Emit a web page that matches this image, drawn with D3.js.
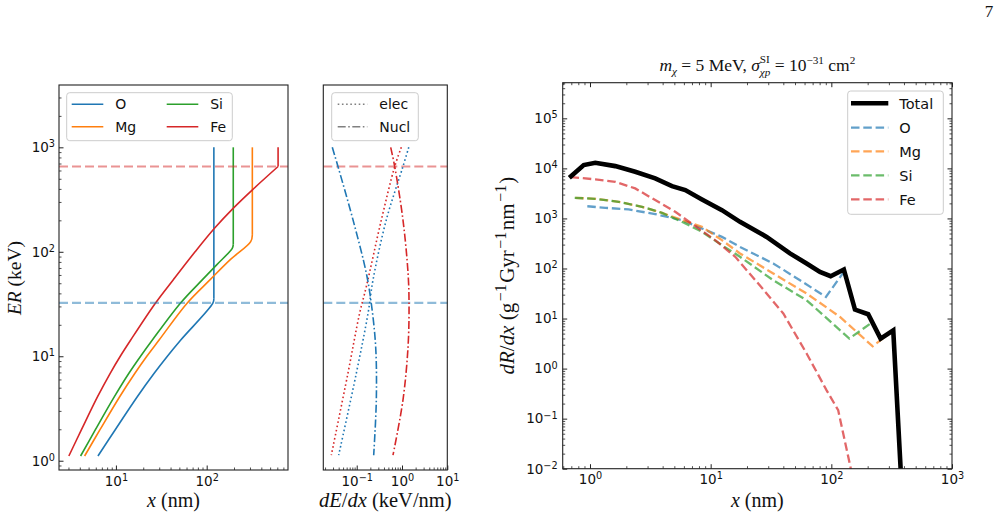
<!DOCTYPE html>
<html><head><meta charset="utf-8">
<script src="https://cdn.jsdelivr.net/npm/d3@7"></script>
<style>body{margin:0;background:#fff} svg{display:block}</style>
</head><body><svg id="c" width="1001" height="518"></svg>
<script>
// ---------------- DATA ----------------
const elements = ["O","Mg","Si","Fe"];
const elementColors = ["#1f77b4","#ff7f0e","#2ca02c","#d62728"];

// Left panel: recoil range x (nm) vs ER (keV)
const range_O_x  = [6.34, 9.79, 17.2, 26.4, 36.9, 51.8, 117, 120, 120];
const range_O_E  = [1.11, 1.97, 4.10, 6.87, 10.0, 14.3, 32.2, 35.5, 1000];
const range_Mg_x = [4.52, 6.65, 11.0, 16.2, 21.9, 29.9, 60.8, 108.6, 180.7, 305.5, 318.4, 318.4];
const range_Mg_E = [1.11, 1.97, 4.10, 6.87, 10.0, 14.3, 32.2, 53.8, 83.6, 125, 145, 1000];
const range_Si_x = [4.08, 5.92, 9.62, 13.9, 18.7, 25.2, 51.3, 89.3, 128.8, 191.4, 196.3, 196.3];
const range_Si_E = [1.11, 1.97, 4.10, 6.87, 10.0, 14.3, 32.2, 53.8, 75, 108, 117, 1000];
const range_Fe_x = [3.03, 4.16, 6.28, 8.65, 11.17, 14.55, 27.2, 42.7, 74.5, 121.9, 196.8, 319, 612, 612];
const range_Fe_E = [1.11, 1.97, 4.10, 6.87, 10.0, 14.3, 32.2, 53.8, 100, 168, 262, 392, 655, 1000];

// Threshold energies (horizontal dashed lines)
const thresholdE = [655, 32.4];
const thresholdColors = ["#d62728", "#1f77b4"];

// Middle panel: stopping power dE/dx (keV/nm) vs ER (keV)
const nucl_O_v  = [0.0289, 0.0386, 0.0829, 0.163, 0.210, 0.262, 0.271, 0.237];
const nucl_O_E  = [1000, 655, 202, 62.4, 32, 12.4, 3.81, 1.13];
const nucl_Fe_v = [0.563, 0.690, 1.05, 1.36, 1.43, 1.36, 1.05, 0.632];
const nucl_Fe_E = [1000, 655, 202, 62.4, 32, 12.4, 3.81, 1.13];
const elec_O_v  = [1.41, 1.05, 0.45, 0.229, 0.178, 0.098, 0.040];
const elec_O_E  = [1000, 655, 202, 53.8, 25.8, 6.87, 1.13];
const elec_Fe_v = [0.966, 0.69, 0.35, 0.163, 0.116, 0.064, 0.0275];
const elec_Fe_E = [1000, 655, 202, 46.4, 25.8, 6.87, 1.13];

// Right panel: dR/dx vs x
const total_x = [0.674, 0.887, 1.106, 1.62, 2.37, 3.47, 4.78, 6.16, 8.47, 12.4, 17.5, 29.1, 45.4, 62.4, 80.5, 98.7, 127, 157, 202, 256, 326, 381];
const total_y = [6490, 11650, 12900, 11100, 8550, 6310, 4430, 3680, 2400, 1465, 855, 428, 200, 126, 85.5, 70.2, 95.5, 15.1, 12.2, 3.98, 5.83, 0.005];
const rate_O_x  = [0.95, 1.34, 2.09, 3.47, 5.78, 8.47, 12.4, 17.5, 33, 55, 90.2, 127];
const rate_O_y  = [1750, 1630, 1514, 1220, 925, 631, 428, 270, 126, 58.3, 27, 85.5];
const rate_Mg_x = [0.755, 1.106, 1.73, 2.70, 3.95, 5.78, 8.47, 12.4, 17.5, 33, 62.4, 118, 220, 326];
const rate_Mg_y = [2580, 2466, 2148, 1706, 1294, 925, 679, 368, 200, 79.4, 31.6, 10.8, 2.79, 5.83];
const rate_Si_x = [0.747, 1.106, 1.73, 2.70, 3.95, 5.78, 8.47, 12.4, 17.5, 33, 62.4, 141, 215];
const rate_Si_y = [2580, 2466, 2148, 1706, 1294, 855, 540, 292, 171, 58.3, 23.2, 3.98, 8.2];
const rate_Fe_x = [0.69, 1.106, 1.62, 2.37, 3.47, 5.09, 7.45, 10.9, 16, 27.3, 40, 62.4, 91.4, 114, 148];
const rate_Fe_y = [6700, 6030, 5400, 3980, 2323, 1355, 701, 368, 171, 38, 12.6, 2.0, 0.368, 0.147, 0.008];

// Tick values
const leftYTicks = [1, 10, 100, 1000];
const leftXTicks = [10, 100];
const midXTicks = [0.1, 1, 10];
const rightXTicks = [1, 10, 100, 1000];
const rightYTicks = [1e-2, 1e-1, 1, 10, 100, 1e3, 1e4, 1e5];

// ---------------- LAYOUT ----------------
const svg = d3.select("#c");
const PL = {x0:59, x1:288, y0:85, y1:470};
const PM = {x0:323.3, x1:447.3, y0:85, y1:470};
const PR = {x0:562.7, x1:952, y0:82.7, y1:468.7};
const SANS = "DejaVu Sans", SERIF = "Liberation Serif";

const xL = d3.scaleLog().domain([2.36, 787]).range([PL.x0, PL.x1]);
const yE = d3.scaleLog().domain([0.815, 3950]).range([PL.y1, PL.y0]);
const xM = d3.scaleLog().domain([0.0183, 10]).range([PM.x0, PM.x1]);
const xR = d3.scaleLog().domain([0.594, 1000]).range([PR.x0, PR.x1]);
const yR = d3.scaleLog().domain([0.01, 5.15e5]).range([PR.y1, PR.y0]);

function logMinors(dom){
  const out=[]; const a=Math.floor(Math.log10(dom[0])), b=Math.ceil(Math.log10(dom[1]));
  for(let d=a; d<=b; d++) for(let k=2;k<=9;k++){const v=k*Math.pow(10,d); if(v>=dom[0] && v<=dom[1]) out.push(v);}
  return out;
}
function supLabel(sel){
  sel.each(function(d){
    const e=Math.round(Math.log10(d)); const t=d3.select(this); t.text(null);
    t.append("tspan").text("10");
    t.append("tspan").attr("dy","-0.5em").attr("font-size","0.72em").text(e<0?"\u2212"+(-e):String(e));
  });
}
function axis(orient, scale, P, majors, labeled, pad){
  const gen = {bottom:d3.axisBottom, top:d3.axisTop, left:d3.axisLeft, right:d3.axisRight}[orient];
  const tr = orient==="bottom" ? `translate(0,${P.y1})` : orient==="top" ? `translate(0,${P.y0})` :
             orient==="left" ? `translate(${P.x0},0)` : `translate(${P.x1},0)`;
  const g1 = svg.append("g").attr("transform",tr)
    .call(gen(scale).tickValues(majors).tickSize(-4.5).tickPadding(pad||6).tickFormat(d=>labeled?"x":""));
  g1.attr("font-family",SANS).attr("font-size",13.5);
  g1.select(".domain").remove();
  g1.selectAll("line").attr("stroke","#222").attr("stroke-width",1);
  g1.selectAll("text").attr("fill","#111");
  if(labeled) supLabel(g1.selectAll("text")); else g1.selectAll("text").remove();
  const g2 = svg.append("g").attr("transform",tr)
    .call(gen(scale).tickValues(logMinors(scale.domain())).tickSize(-2.5).tickFormat(""));
  g2.select(".domain").remove();
  g2.selectAll("text").remove();
  g2.selectAll("line").attr("stroke","#222").attr("stroke-width",0.8);
}
function frame(P){
  svg.append("rect").attr("x",P.x0).attr("y",P.y0).attr("width",P.x1-P.x0).attr("height",P.y1-P.y0)
    .attr("fill","none").attr("stroke","#222").attr("stroke-width",1.1);
}
function clip(id,P){
  svg.append("clipPath").attr("id",id).append("rect").attr("x",P.x0).attr("y",P.y0)
    .attr("width",P.x1-P.x0).attr("height",P.y1-P.y0);
}
function mtext(t, parts, size, supScale){
  let cur=0; const ss=supScale||0.7;
  parts.forEach(([str,o])=>{
    o=o||{};
    const small=o.sup||o.sub;
    const target=o.sup? -size*0.4 : o.sub? size*0.22 : 0;
    const ts=t.append("tspan").text(str).attr("font-size", small? size*ss : size).attr("dy", target-cur);
    if(o.i) ts.attr("font-style","italic");
    if(o.dx) ts.attr("dx",o.dx);
    cur=target;
  });
  return t;
}
function legendBox(x,y,w,h){
  svg.append("rect").attr("x",x).attr("y",y).attr("width",w).attr("height",h).attr("rx",3)
    .attr("fill","#fff").attr("fill-opacity",0.8).attr("stroke","#cccccc").attr("stroke-width",1);
}

clip("cl",PL); clip("cm",PM); clip("cr",PR);

// ---------------- LEFT PANEL ----------------
const leftSeries = [[range_O_x,range_O_E],[range_Mg_x,range_Mg_E],[range_Si_x,range_Si_E],[range_Fe_x,range_Fe_E]];
const lineLc = d3.line().x(d=>xL(d[0])).y(d=>yE(d[1])).curve(d3.curveCatmullRom.alpha(0.5));
const lineLs = d3.line().x(d=>xL(d[0])).y(d=>yE(d[1]));
const gL = svg.append("g").attr("clip-path","url(#cl)");
leftSeries.forEach(([xs,es],i)=>{
  const pts = xs.map((v,j)=>[v,es[j]]);
  const n = pts.length;
  gL.append("path").datum(pts.slice(0,n-1)).attr("d",lineLc)
    .attr("fill","none").attr("stroke",elementColors[i]).attr("stroke-width",1.6);
  gL.append("path").datum(pts.slice(n-2)).attr("d",lineLs)
    .attr("fill","none").attr("stroke",elementColors[i]).attr("stroke-width",1.6);
});
thresholdE.forEach((e,i)=>{
  [PL,PM].forEach(P=>{
    svg.append("line").attr("x1",P.x0).attr("x2",P.x1).attr("y1",yE(e)).attr("y2",yE(e))
      .attr("stroke",thresholdColors[i]).attr("stroke-opacity",0.5).attr("stroke-width",2.2)
      .attr("stroke-dasharray","9,4");
  });
});
axis("left", yE, PL, leftYTicks, true, 4);
axis("bottom", xL, PL, leftXTicks, true, 6);
frame(PL);
// left legend
legendBox(66.7, 92.7, 165.6, 48);
const legPos = [[71.7,104.3],[71.7,126.7],[166.7,104.3],[166.7,126.7]];
elements.forEach((el,i)=>{
  const [lx,ly]=legPos[i];
  svg.append("line").attr("x1",lx).attr("x2",lx+31.6).attr("y1",ly).attr("y2",ly)
    .attr("stroke",elementColors[i]).attr("stroke-width",1.6);
  svg.append("text").attr("x",lx+43.5).attr("y",ly).attr("dy","0.36em").attr("font-family",SANS)
    .attr("font-size",14).attr("fill","#111").text(el);
});

// ---------------- MIDDLE PANEL ----------------
const lineM = d3.line().x(d=>xM(d[0])).y(d=>yE(d[1])).curve(d3.curveCatmullRom.alpha(0.5));
const gM = svg.append("g").attr("clip-path","url(#cm)");
const midSeries = [
  [elec_O_v, elec_O_E, elementColors[0], "1.6,2.6"],
  [elec_Fe_v, elec_Fe_E, elementColors[3], "1.6,2.6"],
  [nucl_O_v, nucl_O_E, elementColors[0], "8,2.5,1.6,2.5"],
  [nucl_Fe_v, nucl_Fe_E, elementColors[3], "8,2.5,1.6,2.5"]
];
midSeries.forEach(([vs,es,c,da])=>{
  gM.append("path").datum(vs.map((v,j)=>[v,es[j]])).attr("d",lineM)
    .attr("fill","none").attr("stroke",c).attr("stroke-width",1.6).attr("stroke-dasharray",da);
});
axis("bottom", xM, PM, midXTicks, true, 6);
frame(PM);
legendBox(331.7, 92.7, 86.6, 48);
[["elec","1.6,2.6"],["Nucl","8,2.5,1.6,2.5"]].forEach(([lab,da],i)=>{
  const ly = i?126.7:104.3;
  svg.append("line").attr("x1",337.7).attr("x2",367.3).attr("y1",ly).attr("y2",ly)
    .attr("stroke","#808080").attr("stroke-width",1.6).attr("stroke-dasharray",da);
  svg.append("text").attr("x",379.3).attr("y",ly).attr("dy","0.36em").attr("font-family",SANS)
    .attr("font-size",14).attr("fill","#111").text(lab);
});

// ---------------- RIGHT PANEL ----------------
const lineR = d3.line().x(d=>xR(d[0])).y(d=>yR(d[1]));
const gR = svg.append("g").attr("clip-path","url(#cr)");
const rightSeries = [[rate_O_x,rate_O_y],[rate_Mg_x,rate_Mg_y],[rate_Si_x,rate_Si_y],[rate_Fe_x,rate_Fe_y]];
rightSeries.forEach(([xs,ys],i)=>{
  gR.append("path").datum(xs.map((v,j)=>[v,ys[j]])).attr("d",lineR)
    .attr("fill","none").attr("stroke",elementColors[i]).attr("stroke-opacity",0.7)
    .attr("stroke-width",2.3).attr("stroke-dasharray","8.5,3.8");
});
gR.append("path").datum(total_x.map((v,j)=>[v,total_y[j]])).attr("d",lineR)
  .attr("fill","none").attr("stroke","#000").attr("stroke-width",4.6).attr("stroke-linejoin","miter");
axis("left", yR, PR, rightYTicks, true, 5);
axis("right", yR, PR, rightYTicks, false);
axis("bottom", xR, PR, rightXTicks, true, 6);
axis("top", xR, PR, rightXTicks, false);
frame(PR);
legendBox(847.7, 91, 95.6, 123.3);
const rLab = ["Total"].concat(elements);
const rRows = [103.3, 127.7, 151.3, 175.3, 199.3];
rLab.forEach((lab,i)=>{
  const ly=rRows[i];
  const ln = svg.append("line").attr("x1",851).attr("x2",888.3).attr("y1",ly).attr("y2",ly);
  if(i===0) ln.attr("stroke","#000").attr("stroke-width",4.6);
  else ln.attr("stroke",elementColors[i-1]).attr("stroke-opacity",0.7).attr("stroke-width",2.3).attr("stroke-dasharray","8.5,3.8");
  svg.append("text").attr("x",899.3).attr("y",ly).attr("dy","0.36em").attr("font-family",SANS)
    .attr("font-size",14.5).attr("fill","#111").text(lab);
});

// ---------------- LABELS ----------------
const lab = (x,y)=>svg.append("text").attr("x",x).attr("y",y).attr("text-anchor","middle")
  .attr("font-family",SERIF).attr("fill","#111");
mtext(lab((PL.x0+PL.x1)/2, 507), [["x",{i:1}],[" (nm)"]], 20);
mtext(lab((PM.x0+PM.x1)/2, 507), [["dE",{i:1}],["/"],["dx",{i:1}],[" (keV/nm)"]], 20.5);
mtext(lab((PR.x0+PR.x1)/2, 507), [["x",{i:1}],[" (nm)"]], 20);
mtext(svg.append("text").attr("transform","translate(21,278) rotate(-90)").attr("text-anchor","middle")
  .attr("font-family",SERIF).attr("fill","#111"), [["ER",{i:1}],[" (keV)"]], 19.5);
mtext(svg.append("text").attr("transform",`translate(514,${(PR.y0+PR.y1)/2}) rotate(-90)`).attr("text-anchor","middle")
  .attr("font-family",SERIF).attr("fill","#111"),
  [["dR",{i:1}],["/"],["dx",{i:1}],[" (g"],["\u22121",{sup:1,dx:1.5}],["Gyr",{dx:1.5}],["\u22121",{sup:1,dx:1.5}],["nm",{dx:1.5}],["\u22121",{sup:1,dx:1.5}],[")",{dx:1}]], 21, 0.76);

// Title with stacked sub/superscript
(function(){
  const s=17.5;
  const t = svg.append("text").attr("x",0).attr("y",71).attr("font-family",SERIF).attr("fill","#111");
  const add=(str,o)=>{o=o||{}; const ts=t.append("tspan").text(str).attr("font-size",o.small?s*0.64:s);
    if(o.i) ts.attr("font-style","italic"); if(o.dy!==undefined) ts.attr("dy",o.dy); if(o.dx!==undefined) ts.attr("dx",o.dx); return ts;};
  add("m",{i:1}); add("\u03c7",{i:1,small:1,dy:s*0.22});
  add(" = 5 MeV,  ",{dy:-s*0.22}); add("\u03c3",{i:1});
  const sub=add("\u03c7p",{i:1,small:1,dy:s*0.3});
  const wSub=sub.node().getComputedTextLength();
  const sup=add("SI",{small:1,dy:-s*0.78,dx:-wSub});
  const wSup=sup.node().getComputedTextLength();
  add(" = 10",{dy:s*0.48,dx:Math.max(0,wSub-wSup)});
  add("\u221231",{small:1,dy:-s*0.42}); add(" cm",{dy:s*0.42}); add("2",{small:1,dy:-s*0.42});
  const w=t.node().getBBox().width;
  t.attr("x",(PR.x0+PR.x1)/2 - w/2);
})();

// page number
svg.append("text").attr("x",989).attr("y",16.5).attr("text-anchor","middle").attr("font-family",SERIF)
  .attr("font-size",17).attr("fill","#111").text("7");
</script></body></html>
